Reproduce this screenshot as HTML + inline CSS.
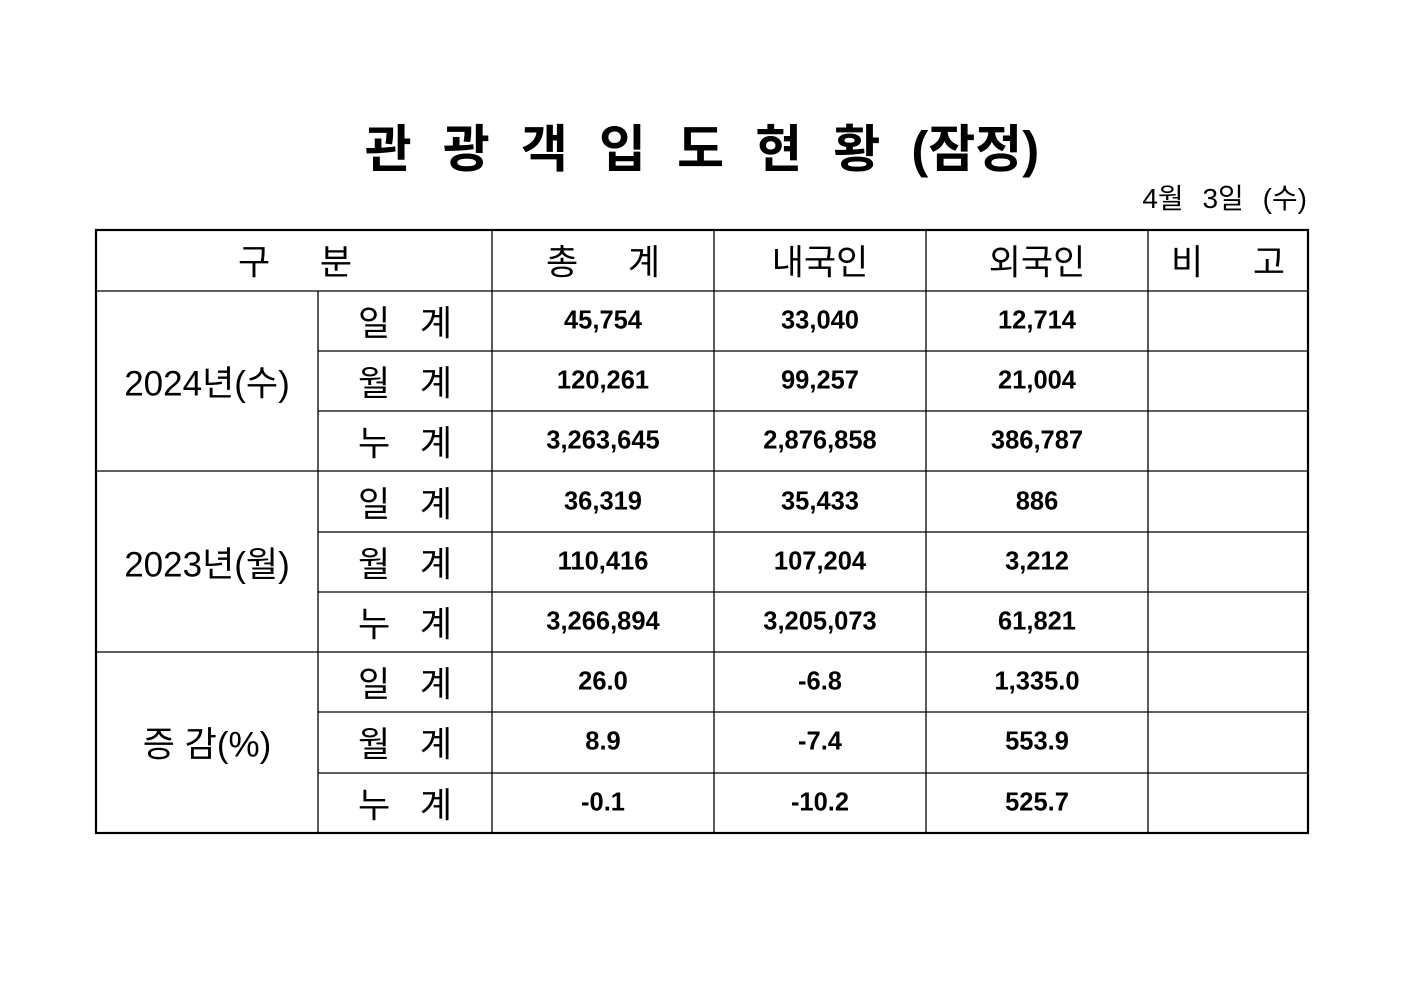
<!DOCTYPE html>
<html><head><meta charset="utf-8"><style>
html,body{margin:0;padding:0;background:#fff;}
body{width:1403px;height:992px;position:relative;overflow:hidden;font-family:"Liberation Sans","Noto Sans CJK KR","NanumGothic",sans-serif;color:#000;}
.t{position:absolute;text-align:center;white-space:nowrap;transform:translate(-50%,-50%);}
.h{font-size:35px;}
.d{font-size:25.5px;font-weight:bold;}
</style></head><body>
<div class="t" style="left:702px;top:145px;font-size:51px;font-weight:bold;word-spacing:17px;">관 광 객 입 도 현 황 (잠정)</div>
<div style="position:absolute;right:96px;top:177px;font-size:28px;word-spacing:11px;">4월 3일 (수)</div>
<svg width="1403" height="992" style="position:absolute;left:0;top:0">
<g stroke="#000" stroke-width="1.3" fill="none">
<line x1="318" y1="291" x2="318" y2="833"/>
<line x1="492" y1="230" x2="492" y2="833"/>
<line x1="714" y1="230" x2="714" y2="833"/>
<line x1="926" y1="230" x2="926" y2="833"/>
<line x1="1148" y1="230" x2="1148" y2="833"/>
<line x1="96" y1="291" x2="1308" y2="291"/>
<line x1="96" y1="471" x2="1308" y2="471"/>
<line x1="96" y1="652" x2="1308" y2="652"/>
<line x1="318" y1="351" x2="1308" y2="351"/>
<line x1="318" y1="411" x2="1308" y2="411"/>
<line x1="318" y1="532" x2="1308" y2="532"/>
<line x1="318" y1="592" x2="1308" y2="592"/>
<line x1="318" y1="712" x2="1308" y2="712"/>
<line x1="318" y1="773" x2="1308" y2="773"/>
<rect x="96" y="230" width="1212" height="603" stroke-width="2.2"/>
</g></svg>
<div class="t h" style="left:295px;top:260px;word-spacing:40px;">구 분</div>
<div class="t h" style="left:603px;top:260px;word-spacing:40px;">총 계</div>
<div class="t h" style="left:820px;top:260px;">내국인</div>
<div class="t h" style="left:1037px;top:260px;">외국인</div>
<div class="t h" style="left:1228px;top:260px;word-spacing:40px;">비 고</div>
<div class="t h" style="left:207px;top:381px;">2024년(수)</div>
<div class="t h" style="left:207px;top:562px;">2023년(월)</div>
<div class="t h" style="left:207px;top:742px;">증 감(%)</div>
<div class="t h" style="left:405px;top:321px;word-spacing:20px;">일 계</div>
<div class="t h" style="left:405px;top:381px;word-spacing:20px;">월 계</div>
<div class="t h" style="left:405px;top:441px;word-spacing:20px;">누 계</div>
<div class="t h" style="left:405px;top:502px;word-spacing:20px;">일 계</div>
<div class="t h" style="left:405px;top:562px;word-spacing:20px;">월 계</div>
<div class="t h" style="left:405px;top:622px;word-spacing:20px;">누 계</div>
<div class="t h" style="left:405px;top:682px;word-spacing:20px;">일 계</div>
<div class="t h" style="left:405px;top:742px;word-spacing:20px;">월 계</div>
<div class="t h" style="left:405px;top:803px;word-spacing:20px;">누 계</div>

<div class="t d" style="left:603px;top:321px">45,754</div><div class="t d" style="left:820px;top:321px">33,040</div><div class="t d" style="left:1037px;top:321px">12,714</div>
<div class="t d" style="left:603px;top:381px">120,261</div><div class="t d" style="left:820px;top:381px">99,257</div><div class="t d" style="left:1037px;top:381px">21,004</div>
<div class="t d" style="left:603px;top:441px">3,263,645</div><div class="t d" style="left:820px;top:441px">2,876,858</div><div class="t d" style="left:1037px;top:441px">386,787</div>
<div class="t d" style="left:603px;top:502px">36,319</div><div class="t d" style="left:820px;top:502px">35,433</div><div class="t d" style="left:1037px;top:502px">886</div>
<div class="t d" style="left:603px;top:562px">110,416</div><div class="t d" style="left:820px;top:562px">107,204</div><div class="t d" style="left:1037px;top:562px">3,212</div>
<div class="t d" style="left:603px;top:622px">3,266,894</div><div class="t d" style="left:820px;top:622px">3,205,073</div><div class="t d" style="left:1037px;top:622px">61,821</div>
<div class="t d" style="left:603px;top:682px">26.0</div><div class="t d" style="left:820px;top:682px">-6.8</div><div class="t d" style="left:1037px;top:682px">1,335.0</div>
<div class="t d" style="left:603px;top:742px">8.9</div><div class="t d" style="left:820px;top:742px">-7.4</div><div class="t d" style="left:1037px;top:742px">553.9</div>
<div class="t d" style="left:603px;top:803px">-0.1</div><div class="t d" style="left:820px;top:803px">-10.2</div><div class="t d" style="left:1037px;top:803px">525.7</div>
</body></html>
